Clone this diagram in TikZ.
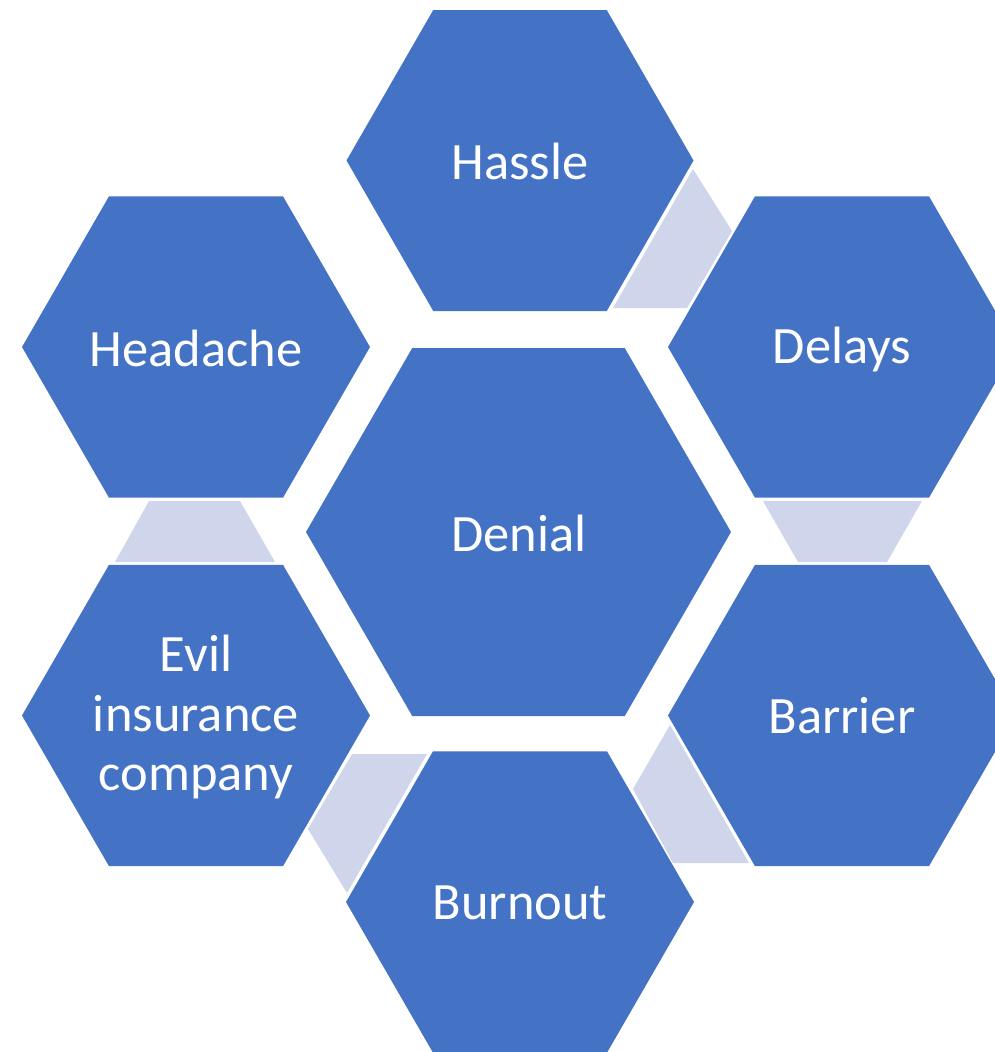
\documentclass[tikz,border=0pt]{standalone}
\usepackage{fontspec}
\setmainfont{Carlito}
\definecolor{hexblue}{HTML}{4472C4}
\definecolor{linkfill}{HTML}{CFD5EA}
\begin{document}
\begin{tikzpicture}[x=1pt,y=-1pt,
  hexlabel/.style={text=white,font=\fontsize{52.5}{59.5}\selectfont,align=center,inner sep=0pt},
  hexfill/.style={fill=hexblue},
  linkpiece/.style={fill=linkfill}]
\useasboundingbox (0,0) rectangle (994,1052);
% link pieces
\fill[linkpiece] (613,308) -- (687,308) -- (732,231) -- (693,169) -- cycle;
\fill[linkpiece] (763,501) -- (922,501) -- (887,562) -- (798,562) -- cycle;
\fill[linkpiece] (149,501) -- (240,501) -- (275,562) -- (115,562) -- cycle;
\fill[linkpiece] (670,725) -- (749,863) -- (673,863) -- (633,789) -- cycle;
\fill[linkpiece] (352,754) -- (427,754) -- (347,893) -- (308,829) -- cycle;
% hexagons
\fill[hexfill] (346.5,160.5) -- (433.25,10) -- (606.75,10) -- (693.5,160.5) -- (606.75,311) -- (433.25,311) -- cycle;
\fill[hexfill] (668,347) -- (755,196.3) -- (929,196.3) -- (1016,347) -- (929,497.7) -- (755,497.7) -- cycle;
\fill[hexfill] (22,347) -- (109,196.3) -- (283,196.3) -- (370,347) -- (283,497.7) -- (109,497.7) -- cycle;
\fill[hexfill] (306,532) -- (412.25,348) -- (624.75,348) -- (731,532) -- (624.75,716) -- (412.25,716) -- cycle;
\fill[hexfill] (22,715.5) -- (109,564.8) -- (283,564.8) -- (370,715.5) -- (283,866.2) -- (109,866.2) -- cycle;
\fill[hexfill] (668,715.5) -- (755,564.8) -- (929,564.8) -- (1016,715.5) -- (929,866.2) -- (755,866.2) -- cycle;
\fill[hexfill] (346,902) -- (433,751.3) -- (607,751.3) -- (694,902) -- (607,1052.7) -- (433,1052.7) -- cycle;
% labels
\node[hexlabel] (hassle) at (520,161) {Hassle};
\node[hexlabel] (delays) at (842,349) {Delays};
\node[hexlabel] (headache) at (196,348) {Headache};
\node[hexlabel] (denial) at (519,533) {Denial};
\node[hexlabel] (evil) at (196,717) {Evil\\insurance\\company};
\node[hexlabel] (barrier) at (842,716) {Barrier};
\node[hexlabel] (burnout) at (520,903) {Burnout};
\end{tikzpicture}
\end{document}
